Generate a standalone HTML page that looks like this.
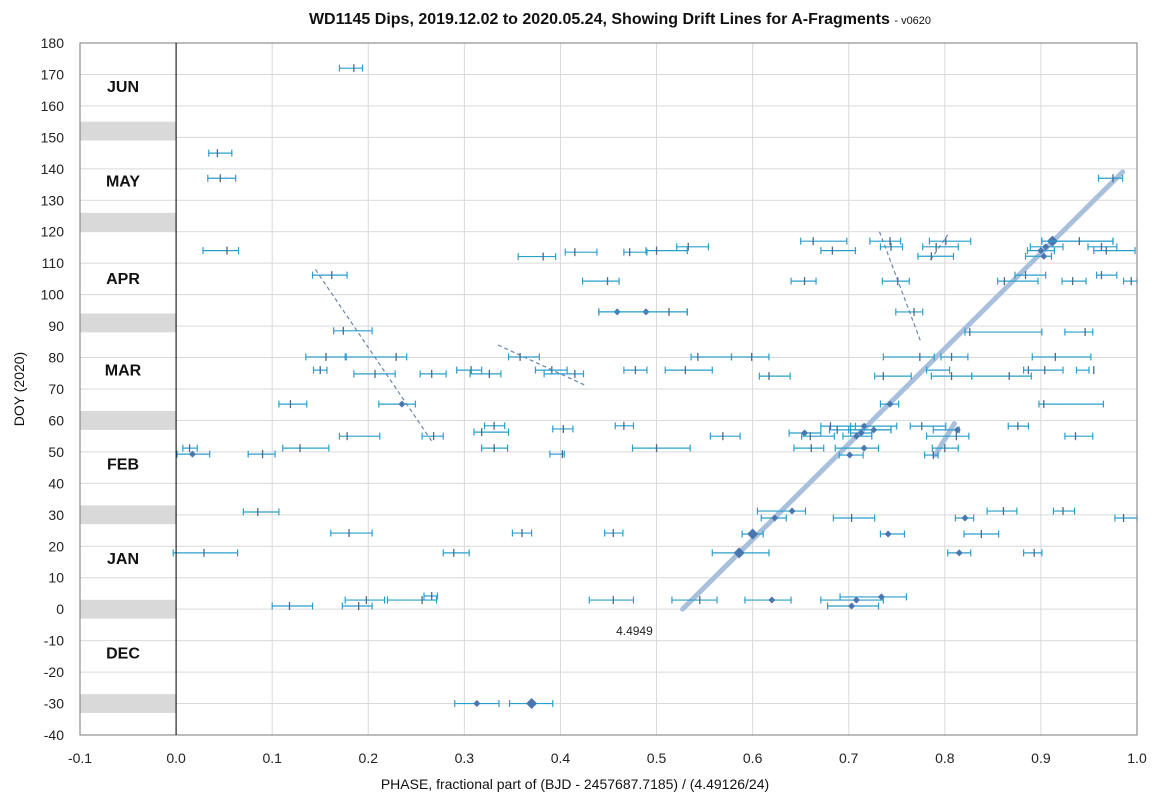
<!DOCTYPE html>
<html><head><meta charset="utf-8"><style>
body{margin:0;background:#fff;}
svg{display:block;font-family:"Liberation Sans",Arial,sans-serif;}
</style></head><body>
<svg id="chart" width="1159" height="807">
<text x="620" y="24" text-anchor="middle" font-size="16" font-weight="bold" fill="#111">WD1145 Dips, 2019.12.02 to 2020.05.24, Showing Drift Lines for A-Fragments <tspan font-size="11" font-weight="normal">- v0620</tspan></text>
<g id="grid"></g><g id="bands"></g><g id="lines"></g><g id="marks"></g><g id="axes"></g>
<text x="24" y="389" font-size="14" fill="#111" text-anchor="middle" transform="rotate(-90 24 389)">DOY (2020)</text>
<text x="575" y="789" font-size="14" fill="#111" text-anchor="middle">PHASE, fractional part of (BJD - 2457687.7185) / (4.49126/24)</text>
</svg>
<script>
const xTicks=[-0.1,0,0.1,0.2,0.3,0.4,0.5,0.6,0.7,0.8,0.9,1.0];
const xTickLabels=["-0.1","0.0","0.1","0.2","0.3","0.4","0.5","0.6","0.7","0.8","0.9","1.0"];
const yTicks=[180,170,160,150,140,130,120,110,100,90,80,70,60,50,40,30,20,10,0,-10,-20,-30,-40];
const months=["JUN","MAY","APR","MAR","FEB","JAN","DEC"];
const monthDoy=[165,135,104,75,45,15,-15];
const bandDoy=[152,123,91,60,30,0,-30];
const dipPhase=[0.185,0.043,0.046,0.975,0.053,0.382,0.415,0.472,0.162,0.449,0.459,0.489,0.513,0.174,0.156,0.229,0.358,0.150,0.307,0.391,0.478,0.207,0.266,0.326,0.415,0.119,0.235,0.331,0.466,0.403,0.318,0.178,0.268,0.014,0.129,0.331,0.500,0.017,0.090,0.402,0.085,0.180,0.360,0.455,0.029,0.289,0.266,0.198,0.256,0.455,0.118,0.190,0.313,0.370,
0.663,0.743,0.801,0.912,0.940,0.533,0.744,0.791,0.905,0.963,0.500,0.683,0.900,0.968,0.786,0.903,0.654,0.751,0.884,0.963,0.862,0.933,0.994,0.768,0.826,0.946,0.543,0.599,0.774,0.807,0.915,0.530,0.887,0.955,0.904,0.617,0.736,0.807,0.867,0.743,0.903,
0.681,0.716,0.776,0.876,0.688,0.726,0.813,0.654,0.713,0.569,0.660,0.708,0.812,0.936,0.661,0.716,0.800,0.701,0.788,0.641,0.861,0.923,0.623,0.703,0.821,0.986,0.600,0.741,0.838,0.586,0.815,0.893,0.734,0.545,0.620,0.708,0.703];
const dipLow=[0.170,0.034,0.033,0.960,0.028,0.356,0.405,0.466,0.142,0.423,0.440,0.440,0.440,0.164,0.135,0.177,0.346,0.143,0.292,0.374,0.466,0.185,0.254,0.306,0.383,0.107,0.211,0.321,0.457,0.392,0.310,0.170,0.256,0.007,0.111,0.318,0.475,0.001,0.075,0.389,0.070,0.161,0.350,0.446,-0.003,0.278,0.258,0.176,0.220,0.430,0.100,0.173,0.290,0.347,
0.650,0.722,0.784,0.901,0.901,0.521,0.733,0.777,0.889,0.949,0.489,0.671,0.886,0.955,0.772,0.884,0.640,0.735,0.873,0.958,0.855,0.922,0.986,0.749,0.821,0.925,0.536,0.578,0.736,0.796,0.891,0.509,0.781,0.937,0.882,0.607,0.727,0.786,0.828,0.733,0.898,
0.671,0.702,0.764,0.866,0.680,0.700,0.788,0.638,0.702,0.556,0.651,0.694,0.781,0.925,0.643,0.686,0.787,0.690,0.779,0.605,0.844,0.913,0.609,0.684,0.811,0.977,0.589,0.733,0.820,0.558,0.803,0.882,0.691,0.516,0.592,0.671,0.678];
const dipHigh=[0.194,0.058,0.062,0.985,0.065,0.395,0.438,0.490,0.178,0.461,0.532,0.532,0.532,0.204,0.176,0.240,0.378,0.157,0.318,0.407,0.490,0.228,0.281,0.338,0.424,0.136,0.249,0.342,0.476,0.413,0.346,0.212,0.278,0.022,0.159,0.345,0.535,0.035,0.103,0.404,0.107,0.204,0.370,0.465,0.064,0.305,0.272,0.217,0.271,0.476,0.142,0.204,0.336,0.392,
0.698,0.754,0.827,0.975,0.975,0.554,0.756,0.814,0.923,0.979,0.532,0.707,0.914,0.998,0.809,0.911,0.666,0.763,0.905,0.979,0.897,0.947,1.0,0.777,0.901,0.954,0.578,0.617,0.789,0.824,0.952,0.558,0.805,0.950,0.923,0.639,0.765,0.828,0.890,0.752,0.965,
0.707,0.750,0.801,0.887,0.744,0.744,0.815,0.671,0.724,0.587,0.685,0.724,0.825,0.954,0.674,0.731,0.814,0.715,0.793,0.655,0.875,0.935,0.635,0.727,0.830,1.0,0.611,0.758,0.856,0.617,0.827,0.901,0.760,0.563,0.640,0.736,0.731];
const dipDoy=[172,145,137,137,114,112.1,113.5,113.5,106.2,104.3,94.5,94.5,94.5,88.5,80.2,80.2,80.2,76,76,76,76,74.8,74.8,74.8,74.8,65.2,65.2,58.3,58.3,57.3,56.3,55,55,51.2,51.2,51.2,51.2,49.3,49.3,49.3,30.9,24.2,24.2,24.2,17.9,17.9,4.2,2.9,2.9,2.9,1,1,-30,-30,
117,117,117,117,117,115.2,115.2,115.2,115.2,115.2,114,114,114,114,112.2,112.2,104.3,104.3,106.2,106.2,104.3,104.3,104.3,94.5,88.1,88.1,80.2,80.2,80.2,80.2,80.2,76,76,76,76,74.1,74.1,74.1,74.1,65.2,65.2,
58.2,58.2,58.2,58.2,57,57,57,56,56,55,55,55,55,55,51.2,51.2,51.2,49,49,31.2,31.2,31.2,29,29,29,29,23.9,23.9,23.9,17.9,17.9,17.9,3.9,2.9,2.9,2.9,1];
const dipMarker=[0,0,0,0,0,0,0,0,0,0,1,1,0,0,0,0,0,0,0,0,0,0,0,0,0,0,1,0,0,0,0,0,0,0,0,0,0,1,0,0,0,0,0,0,0,0,0,0,0,0,0,0,1,2,
0,0,0,2,0,0,0,0,1,0,0,0,1,0,0,1,0,0,0,0,0,0,0,0,0,0,0,0,0,0,0,0,0,0,0,0,0,0,0,1,0,
0,1,0,0,0,1,1,1,1,0,0,1,0,0,0,1,0,1,0,1,0,0,1,0,1,0,2,1,0,2,1,0,1,0,1,1,1];
const driftA=[[0.527,0],[0.985,139]];
const driftB=[[0.790,49],[0.810,59]];
const dashed=[[[0.145,108],[0.267,53]],[[0.335,84],[0.427,71]],[[0.732,120],[0.775,85]],[[0.785,111],[0.803,119]]];

const X0=80,X1=1137,Y0=43,Y1=735,xmin=-0.1,xmax=1.0,ymin=-40,ymax=180;
const sx=v=>X0+(v-xmin)/(xmax-xmin)*(X1-X0);
const sy=v=>Y1-(v-ymin)/(ymax-ymin)*(Y1-Y0);
const NS="http://www.w3.org/2000/svg";
function mk(p,t,a){const e=document.createElementNS(NS,t);for(const k in a)e.setAttribute(k,a[k]);p.appendChild(e);return e;}
const G=document.getElementById('grid'),B=document.getElementById('bands'),L=document.getElementById('lines'),M=document.getElementById('marks'),A=document.getElementById('axes');
xTicks.forEach((t,i)=>{
 const l=mk(G,'line',{x1:sx(t),x2:sx(t),y1:Y0,y2:Y1,stroke:'#d9d9d9','stroke-width':1});
 
 
 const tx=mk(A,'text',{x:sx(t),y:Y1+28,'text-anchor':'middle','font-size':14,fill:'#222'});
 tx.textContent=xTickLabels[i];
 
 
});
yTicks.forEach(t=>{
 const l=mk(G,'line',{x1:X0,x2:X1,y1:sy(t),y2:sy(t),stroke:'#d9d9d9','stroke-width':1});
 
 
 const tx=mk(A,'text',{x:X0-16,y:sy(t)+5,'text-anchor':'end','font-size':14,fill:'#222'});
 tx.textContent=String(t);
 
 
});
bandDoy.forEach(d=>{
 const r=mk(B,'rect',{x:X0,y:sy(d+3),width:sx(0)-X0,height:sy(d-3)-sy(d+3),fill:'#d9d9d9'});
 
 
});
months.forEach((m,i)=>{
 const t=mk(A,'text',{x:123,y:sy(monthDoy[i])+2,'text-anchor':'middle','font-size':16,'font-weight':'bold',fill:'#111'});
 t.textContent=m;
 
 
});
const fr=mk(A,'rect',{x:X0,y:Y0,width:X1-X0,height:Y1-Y0,fill:'none',stroke:'#7a7a7a','stroke-width':1});


const ya=mk(A,'line',{x1:sx(0),x2:sx(0),y1:Y0,y2:Y1,stroke:'#000','stroke-width':1});


[driftA,driftB].forEach(d=>{
 const l=mk(L,'line',{x1:sx(d[0][0]),y1:sy(d[0][1]),x2:sx(d[1][0]),y2:sy(d[1][1]),stroke:'#a9c0dd','stroke-width':5,'stroke-linecap':'round'});
 
 
});
dashed.forEach(d=>{
 const l=mk(L,'line',{x1:sx(d[0][0]),y1:sy(d[0][1]),x2:sx(d[1][0]),y2:sy(d[1][1]),stroke:'#6a86ad','stroke-width':1.2,'stroke-dasharray':'4,3'});
 
 
});
const lab=mk(L,'text',{x:sx(0.477),y:sy(-7)+4,'font-size':12,fill:'#222','text-anchor':'middle'});
lab.textContent='4.4949';


dipPhase.forEach((p,i)=>{
 const g=mk(M,'g',{});
 
 
 const y=sy(dipDoy[i]),a=sx(dipLow[i]),b=sx(dipHigh[i]),c=sx(p);
 mk(g,'line',{x1:a,x2:b,y1:y,y2:y,stroke:'#2a9fcc','stroke-width':1.2});
 mk(g,'line',{x1:a,x2:a,y1:y-3.5,y2:y+3.5,stroke:'#2a9fcc','stroke-width':1.2});
 mk(g,'line',{x1:b,x2:b,y1:y-3.5,y2:y+3.5,stroke:'#2a9fcc','stroke-width':1.2});
 const m=dipMarker[i];
 if(m===0) mk(g,'line',{x1:c,x2:c,y1:y-4,y2:y+4,stroke:'#4d6a8c','stroke-width':1.3});
 else {const s=m===2?5.5:3.5;mk(g,'path',{d:`M${c} ${y-s}L${c+s} ${y}L${c} ${y+s}L${c-s} ${y}Z`,fill:'#4a76b0'});}
});
</script>
</body></html>
